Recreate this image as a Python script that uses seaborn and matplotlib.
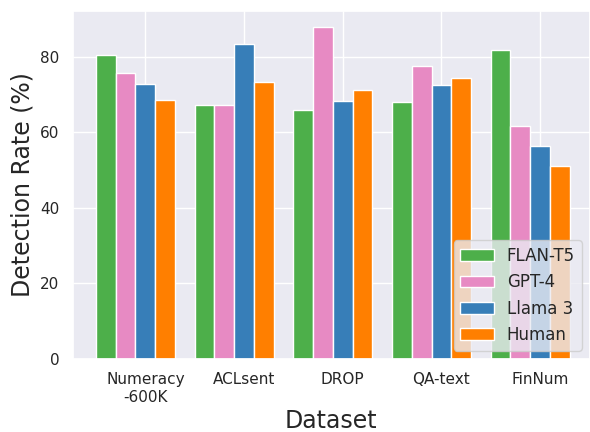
import numpy as np
import pandas as pd
import matplotlib
matplotlib.use("Agg")
import matplotlib.pyplot as plt
import seaborn as sns

# -----------------------------
# data
# -----------------------------
datasets = ["Numeracy\n-600K", "ACLsent", "DROP", "QA-text", "FinNum"]
models = ["FLAN-T5", "GPT-4", "Llama 3", "Human"]
flan_t5 = [80.4, 67.3, 65.8, 68.1, 81.9]
gpt_4 = [75.6, 67.2, 87.8, 77.6, 61.8]
llama_3 = [72.9, 83.3, 68.3, 72.5, 56.5]
human = [68.6, 73.4, 71.3, 74.4, 51.2]
colors = ["#4daf4a", "#e78ac3", "#377eb8", "#ff7f00"]

rows = []
for model, vals in zip(models, [flan_t5, gpt_4, llama_3, human]):
    for d, v in zip(datasets, vals):
        rows.append({"Dataset": d, "Model": model, "Rate": v})
df = pd.DataFrame(rows)

# -----------------------------
# plot
# -----------------------------
sns.set_theme(style="darkgrid")
plt.rcParams["font.family"] = ["DejaVu Sans"]
fig = plt.figure(figsize=(5.9, 4.32), dpi=100)
ax = fig.add_axes([0.1232, 0.169, 0.8768, 0.806])

sns.barplot(data=df, x="Dataset", y="Rate", hue="Model", hue_order=models,
            palette=colors, saturation=1, width=0.8, edgecolor="white",
            linewidth=1, ax=ax)

# ticks sit on the third bar of each group, as in the original
ax.set_xticks(np.arange(len(datasets)) + 0.1)
ax.set_xticklabels(datasets, fontsize=11)
ax.tick_params(axis="y", labelsize=11)
ax.set_xlim(-0.636, 4.606)
ax.set_yticks([0, 20, 40, 60, 80])
ax.xaxis.grid(True)
ax.set_axisbelow(True)
ax.set_xlabel("Dataset", fontsize=17, labelpad=3)
ax.set_ylabel("Detection Rate (%)", fontsize=17)
ax.legend(loc="lower right", fontsize=12, title=None)

fig.savefig("out.png", dpi=100)
